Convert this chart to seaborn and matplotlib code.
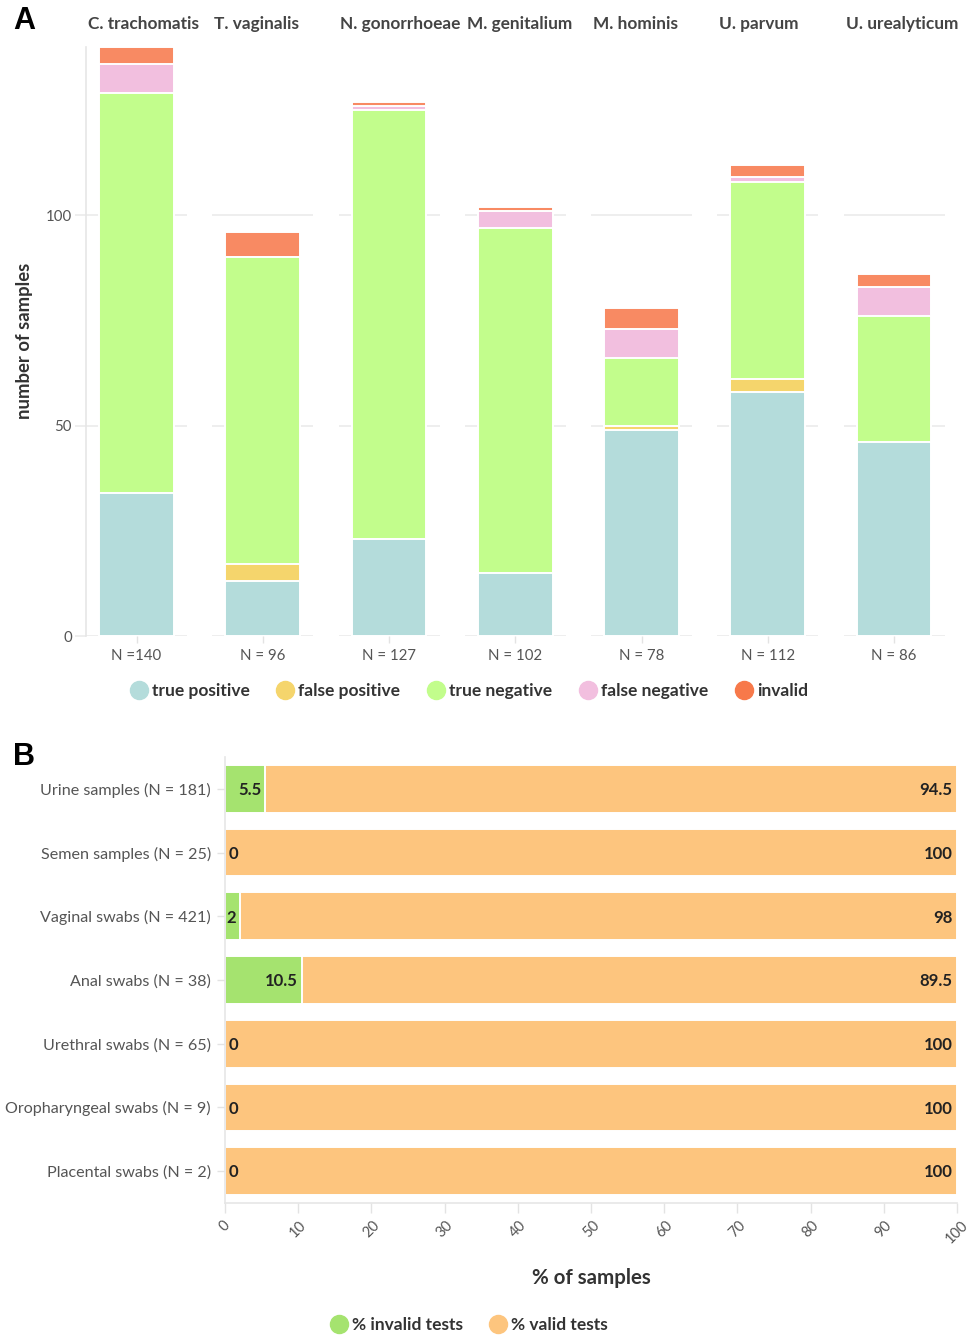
import numpy as np
import pandas as pd
import matplotlib
matplotlib.use("Agg")
import matplotlib.pyplot as plt
from matplotlib.lines import Line2D
import seaborn as sns

# ---------------- data ----------------
pathogens = ["C. trachomatis", "T. vaginalis", "N. gonorrhoeae", "M. genitalium",
             "M. hominis", "U. parvum", "U. urealyticum"]
n_labels = ["N =140", "N = 96", "N = 127", "N = 102", "N = 78", "N = 112", "N = 86"]
true_pos = [34, 13, 23, 15, 49, 58, 46]
false_pos = [0, 4, 0, 0, 1, 3, 0]
true_neg = [95, 73, 102, 82, 16, 47, 30]
false_neg = [7, 0, 1, 4, 7, 1, 7]
invalid = [4, 6, 1, 1, 5, 3, 3]
categories_a = ["true positive", "false positive", "true negative", "false negative", "invalid"]
y_ticks_a = [0, 50, 100]

samples = ["Urine samples (N = 181)", "Semen samples (N = 25)", "Vaginal swabs (N = 421)",
           "Anal swabs (N = 38)", "Urethral swabs (N = 65)", "Oropharyngeal swabs (N = 9)",
           "Placental swabs (N = 2)"]
pct_invalid = [5.5, 0, 2, 10.5, 0, 0, 0]
pct_valid = [94.5, 100, 98, 89.5, 100, 100, 100]
categories_b = ["% invalid tests", "% valid tests"]
x_ticks_b = list(range(0, 101, 10))

# ---------------- style ----------------
colors_a = ["#b4dcdb", "#f5d56c", "#c2fd8c", "#f2bfdf", "#f88a63"]
legend_colors_a = ["#b4dcdb", "#f5d56c", "#c2fd8c", "#f2bfdf", "#f7794a"]
green_b = "#a5e36f"
orange_b = "#fdc57e"
grid_c = "#ebebeb"
tick_c = "#555555"
dark = "#333333"

sns.set_style("white")
plt.rcParams["font.family"] = ["Lato", "DejaVu Sans"]

W, H = 973, 1335
fig = plt.figure(figsize=(W / 100, H / 100), dpi=100)


def rect(l, t, r, b):
    return [l / W, 1 - b / H, (r - l) / W, (b - t) / H]


# ---------------- panel A ----------------
layers = [true_pos, false_pos, true_neg, false_neg, invalid]
cum = np.cumsum(np.array(layers, dtype=float), axis=0)  # cumulative tops

for i, name in enumerate(pathogens):
    left = 86 + i * 126.25
    ax = fig.add_axes(rect(left, 47, left + 101, 636))
    # draw from the tallest cumulative down so segments stack
    for k in range(len(layers) - 1, -1, -1):
        sns.barplot(x=[n_labels[i]], y=[cum[k, i]], color=colors_a[k], saturation=1,
                    width=0.74, edgecolor="white", linewidth=1.4, errorbar=None, ax=ax)
    ax.set_xlim(-0.5, 0.5)
    ax.set_ylim(0, 140)
    ax.set_yticks(y_ticks_a)
    ax.set_axisbelow(True)
    ax.yaxis.grid(True, color=grid_c, linewidth=1.2)
    ax.set_xlabel("")
    ax.set_ylabel("")
    for s in ["top", "right", "bottom"]:
        ax.spines[s].set_visible(False)
    ax.tick_params(axis="x", length=5, color="#e3e3e3", width=1, labelsize=10.8,
                   labelcolor=tick_c, pad=4, bottom=True)
    if i == 0:
        ax.spines["left"].set_color("#e6e6e6")
        ax.spines["left"].set_linewidth(1.2)
        ax.tick_params(axis="y", length=8, color=grid_c, width=1.2, labelsize=10.8,
                       labelcolor=tick_c, pad=2, left=True)
    else:
        ax.spines["left"].set_visible(False)
        ax.tick_params(axis="y", left=False, labelleft=False)
    fig.text((left + 2) / W, 1 - 24 / H, name, ha="left", va="center",
             fontsize=12.4, fontweight="bold", color="#444444")

fig.text(25 / W, 1 - 341 / H, "number of samples", rotation=90, ha="center", va="center",
         fontsize=13.3, fontweight="bold", color=dark)

handles_a = [Line2D([0], [0], marker="o", linestyle="none", markersize=13,
                    markerfacecolor=c, markeredgecolor=c) for c in legend_colors_a]
leg_a = fig.legend(handles_a, categories_a, loc="center", ncol=5, frameon=False,
                   bbox_to_anchor=(469 / W, 1 - 691 / H), handlelength=1.0,
                   handletextpad=0.25, columnspacing=1.55,
                   prop={"weight": "bold", "size": 12.5})
for t in leg_a.get_texts():
    t.set_color(dark)

fig.text(13 / W, 1 - 21 / H, "A", fontsize=22, fontweight="bold",
         family="Liberation Sans", ha="left", va="center", color="black")

# ---------------- panel B ----------------
axb = fig.add_axes(rect(225, 757, 957, 1203))
totals = [a + b for a, b in zip(pct_invalid, pct_valid)]
sns.barplot(x=totals, y=samples, orient="h", color=orange_b, saturation=1, width=0.75,
            edgecolor="white", linewidth=1.4, errorbar=None, ax=axb)
sns.barplot(x=pct_invalid, y=samples, orient="h", color=green_b, saturation=1, width=0.75,
            edgecolor="white", linewidth=1.4, errorbar=None, ax=axb)
axb.set_xlim(0, 100)
axb.set_ylim(6.5, -0.5)
axb.set_xticks(x_ticks_b)
axb.set_xticklabels([str(v) for v in x_ticks_b], rotation=45, ha="center")
axb.set_ylabel("")
axb.set_xlabel("% of samples", fontsize=14.8, fontweight="bold", color=dark, labelpad=16)
for s in ["top", "right"]:
    axb.spines[s].set_visible(False)
for s in ["left", "bottom"]:
    axb.spines[s].set_color("#e6e6e6")
    axb.spines[s].set_linewidth(1.2)
axb.tick_params(axis="x", length=7, color="#e3e3e3", width=1, labelsize=10.5,
                labelcolor=tick_c, pad=4, bottom=True)
axb.tick_params(axis="y", length=6, color="#e3e3e3", width=1, labelsize=11.6,
                labelcolor=tick_c, pad=4, left=True)

for i, (vi, vv) in enumerate(zip(pct_invalid, pct_valid)):
    lab = f"{vi:g}"
    if vi >= 2:
        axb.text(vi - 0.5, i + 0.02, lab, ha="right", va="center", fontsize=12,
                 fontweight="bold", color="#222222")
    else:
        axb.text(0.5, i + 0.02, lab, ha="left", va="center", fontsize=12,
                 fontweight="bold", color="#222222")
    axb.text(99.4, i + 0.02, f"{vv:g}", ha="right", va="center", fontsize=12,
             fontweight="bold", color="#222222")

handles_b = [Line2D([0], [0], marker="o", linestyle="none", markersize=13,
                    markerfacecolor=c, markeredgecolor=c) for c in [green_b, orange_b]]
leg_b = fig.legend(handles_b, categories_b, loc="center", ncol=2, frameon=False,
                   bbox_to_anchor=(469 / W, 1 - 1325 / H), handlelength=1.0,
                   handletextpad=0.25, columnspacing=1.55,
                   prop={"weight": "bold", "size": 12.5})
for t in leg_b.get_texts():
    t.set_color(dark)

fig.text(13 / W, 1 - 757 / H, "B", fontsize=22, fontweight="bold",
         family="Liberation Sans", ha="left", va="center", color="black")

fig.savefig("out.png", dpi=100, facecolor="white")
